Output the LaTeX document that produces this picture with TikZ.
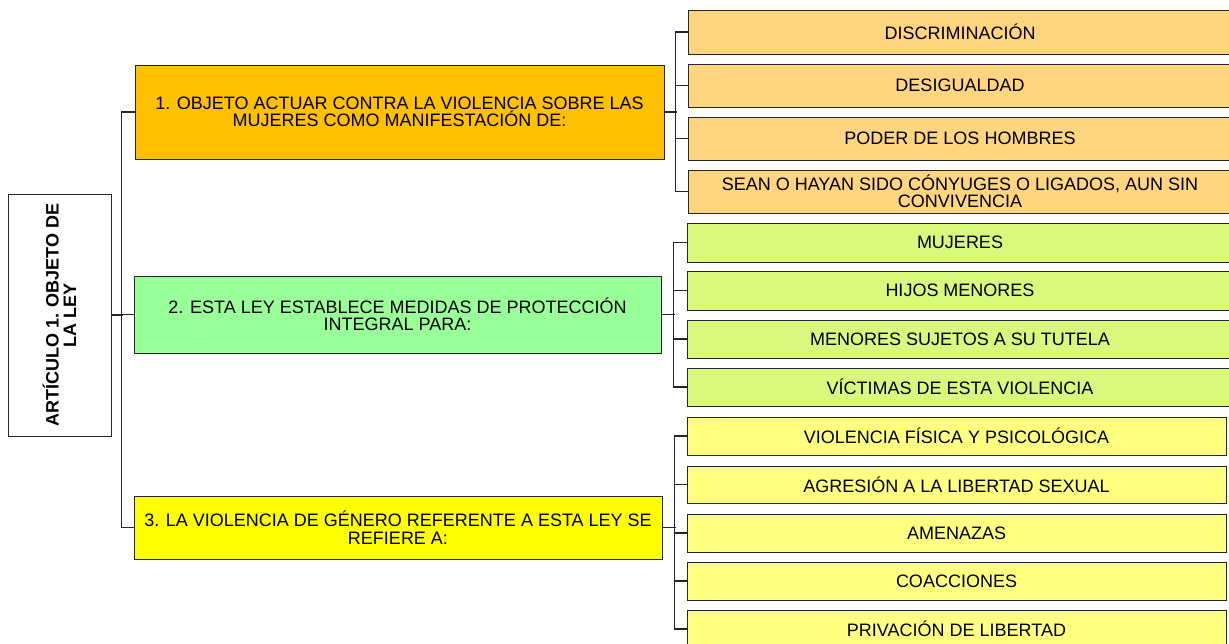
\documentclass[tikz,border=0pt]{standalone}
\usepackage{fontspec}
\setmainfont{Liberation Sans}
\begin{document}
\begin{tikzpicture}[x=1pt,y=-1pt,
  box/.style={draw=black!85, line width=1pt, inner sep=0pt, align=center,
    font=\fontsize{18}{17.5}\selectfont},
  conn/.style={draw=black!85, line width=1.2pt},
  child/.style={box, minimum height=38pt},
]
\useasboundingbox (0,0) rectangle (1229,643);
\clip (0,0) rectangle (1229,643);
\definecolor{cOne}{HTML}{FFC000}
\definecolor{cTwo}{HTML}{99FF99}
\definecolor{cThree}{HTML}{FFFF00}
\definecolor{cOneL}{HTML}{FFD57F}
\definecolor{cTwoL}{HTML}{D8F97C}
\definecolor{cThreeL}{HTML}{FFFF80}

% root
\node[box, fill=white, minimum width=103pt, minimum height=242pt] (root) at (59.5,315) {};
\node[rotate=90, align=center, font=\fontsize{18}{17.5}\selectfont\bfseries] (roottext) at (root.center) {ARTÍCULO 1. OBJETO DE\\LA LEY};

% level 1
\node[box, fill=cOne, minimum width=529pt, minimum height=94pt] (b1) at (399.5,112) {1. OBJETO ACTUAR CONTRA LA VIOLENCIA SOBRE LAS\\MUJERES COMO MANIFESTACIÓN DE:};
\node[box, fill=cTwo, minimum width=527pt, minimum height=77pt] (b2) at (397.5,314.5) {2. ESTA LEY ESTABLECE MEDIDAS DE PROTECCIÓN\\INTEGRAL PARA:};
\node[box, fill=cThree, minimum width=528pt, minimum height=63pt] (b3) at (398,527.5) {3. LA VIOLENCIA DE GÉNERO REFERENTE A ESTA LEY SE\\REFIERE A:};

% orange children
\node[child, fill=cOneL, minimum width=544pt, minimum height=44pt] (o1) at (960,32) {DISCRIMINACIÓN};
\node[child, fill=cOneL, minimum width=544pt, minimum height=43pt] (o2) at (960,85.5) {DESIGUALDAD};
\node[child, fill=cOneL, minimum width=544pt, minimum height=43pt] (o3) at (960,138.5) {PODER DE LOS HOMBRES};
\node[child, fill=cOneL, minimum width=544pt, minimum height=43pt] (o4) at (960,191.5) {SEAN O HAYAN SIDO CÓNYUGES O LIGADOS, AUN SIN\\CONVIVENCIA};

% green children
\node[child, fill=cTwoL, minimum width=546pt, minimum height=39pt] (g1) at (960,242.5) {MUJERES};
\node[child, fill=cTwoL, minimum width=546pt, minimum height=39pt] (g2) at (960,290.5) {HIJOS MENORES};
\node[child, fill=cTwoL, minimum width=546pt, minimum height=38pt] (g3) at (960,339) {MENORES SUJETOS A SU TUTELA};
\node[child, fill=cTwoL, minimum width=546pt, minimum height=38pt] (g4) at (960,387) {VÍCTIMAS DE ESTA VIOLENCIA};

% yellow children
\node[child, fill=cThreeL, minimum width=539pt] (y1) at (956.5,436) {VIOLENCIA FÍSICA Y PSICOLÓGICA};
\node[child, fill=cThreeL, minimum width=539pt, minimum height=37pt] (y2) at (956.5,484.5) {AGRESIÓN A LA LIBERTAD SEXUAL};
\node[child, fill=cThreeL, minimum width=539pt] (y3) at (956.5,533) {AMENAZAS};
\node[child, fill=cThreeL, minimum width=539pt] (y4) at (956.5,581) {COACCIONES};
\node[child, fill=cThreeL, minimum width=539pt] (y5) at (956.5,629) {PRIVACIÓN DE LIBERTAD};

% connectors
\draw[conn] (root.east) -- ++(11,0) coordinate (rj);
\draw[conn] (b1.west) -- ++(-13,0) |- (b3.west);
\draw[conn] (b1.west) ++(-13,0) |- (b2.west);

\draw[conn] (b1.east) -- ++(12,0) coordinate (j1);
\draw[conn] (o1.west) -- ++(-12,0) |- (o4.west);
\draw[conn] (o1.west) ++(-12,0) |- (o2.west);
\draw[conn] (o1.west) ++(-12,0) |- (o3.west);

\draw[conn] (b2.east) -- ++(13,0) coordinate (j2);
\draw[conn] (g1.west) -- ++(-13,0) |- (g4.west);
\draw[conn] (g1.west) ++(-13,0) |- (g2.west);
\draw[conn] (g1.west) ++(-13,0) |- (g3.west);

\draw[conn] (b3.east) -- ++(13,0) coordinate (j3);
\draw[conn] (y1.west) -- ++(-12,0) |- (y5.west);
\draw[conn] (y1.west) ++(-12,0) |- (y2.west);
\draw[conn] (y1.west) ++(-12,0) |- (y3.west);
\draw[conn] (y1.west) ++(-12,0) |- (y4.west);
\end{tikzpicture}
\end{document}
